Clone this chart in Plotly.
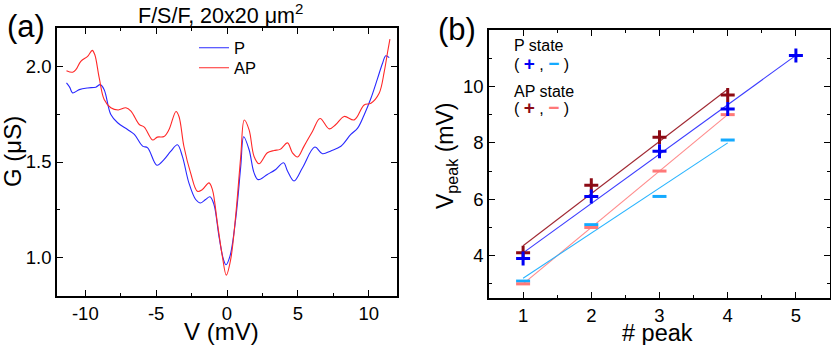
import numpy as np
import plotly.graph_objects as go

FONT = "Liberation Sans, Arial, sans-serif"

# ---------------- Panel (a) data ----------------
V_P = [-11.33, -11.1, -10.9, -10.43, -9.84, -9.26, -8.95, -8.67, -8.2, -7.72, -7.02, -6.54,
       -5.96, -5.6, -4.95, -4.45, -3.98, -3.5, -3.15, -2.69, -2.21, -1.86, -1.51, -1.2, -0.92,
       -0.57, -0.25, -0.07, 0.21, 0.61, 0.97, 1.18, 1.56, 1.91, 2.2, 2.85, 3.44, 3.99, 4.27,
       4.73, 5.33, 6.2, 6.74, 7.33, 8.04, 8.74, 9.22, 9.68, 10.16, 10.63, 10.98, 11.21, 11.45]
G_P = [1.913, 1.89, 1.861, 1.878, 1.887, 1.891, 1.904, 1.878, 1.748, 1.705, 1.670, 1.644,
       1.583, 1.574, 1.483, 1.512, 1.555, 1.590, 1.529, 1.391, 1.304, 1.286, 1.304, 1.318, 1.278,
       1.113, 0.991, 0.963, 1.008, 1.20, 1.477, 1.632, 1.564, 1.443, 1.408, 1.435, 1.461, 1.496, 1.453,
       1.401, 1.47, 1.578, 1.543, 1.558, 1.582, 1.644, 1.677, 1.746, 1.833, 1.937, 2.016, 2.055, 2.045]

V_AP = [-11.33, -10.9, -10.67, -10.32, -9.84, -9.51, -9.33, -9.02, -8.67, -8.2, -7.68, -7.14,
        -6.78, -6.19, -5.84, -5.25, -4.92, -4.45, -4.1, -3.6, -3.39, -3.04, -2.57, -2.09, -1.74,
        -1.27, -1.03, -0.68, -0.33, -0.05, 0.26, 0.61, 0.97, 1.22, 1.56, 1.91, 2.26, 2.85, 3.32,
        3.75, 4.27, 4.62, 4.98, 5.44, 6.04, 6.57, 7.21, 7.68, 8.27, 8.98, 9.68, 10.16, 10.74,
        11.1, 11.34, 11.5]
G_AP = [1.977, 1.969, 1.982, 2.026, 2.052, 2.083, 2.06, 1.939, 1.826, 1.783, 1.772, 1.783,
        1.766, 1.696, 1.682, 1.615, 1.630, 1.633, 1.668, 1.764, 1.738, 1.581, 1.443, 1.347, 1.356,
        1.391, 1.356, 1.182, 1.008, 0.909, 0.991, 1.217, 1.529, 1.719, 1.668, 1.529, 1.491, 1.548, 1.56,
        1.566, 1.600, 1.548, 1.526, 1.583, 1.661, 1.727, 1.673, 1.696, 1.738, 1.72, 1.798, 1.807, 1.859,
        1.972, 2.076, 2.142]

# ---------------- Panel (b) data ----------------
peak_P = [1, 2, 3, 4, 5]
Vp_P_plus = [3.9, 6.1, 7.7, 9.2, 11.1]
peak_4 = [1, 2, 3, 4]
Vp_P_minus = [3.1, 5.1, 6.1, 8.1]
Vp_AP_plus = [4.1, 6.5, 8.2, 9.7]
Vp_AP_minus = [3.0, 5.0, 7.0, 9.0]

C_BLUE = "rgb(40,40,255)"
C_RED = "rgb(255,40,40)"
C_PP = "rgb(0,0,245)"
C_PM = "rgb(20,170,255)"
C_APP = "rgb(140,10,20)"
C_APM = "rgb(255,120,120)"

W, H = 831, 345


def PX(x):
    return x / W


def PY(y):
    return 1 - y / H


fig = go.Figure()

fig.add_trace(go.Scatter(x=V_P, y=G_P, mode="lines", name="P", legend="legend",
                         line=dict(color=C_BLUE, width=1.1, shape="spline", smoothing=1.0),
                         xaxis="x", yaxis="y"))
fig.add_trace(go.Scatter(x=V_AP, y=G_AP, mode="lines", name="AP", legend="legend2",
                         line=dict(color=C_RED, width=1.1, shape="spline", smoothing=1.0),
                         xaxis="x", yaxis="y"))


def fit_line(xs, ys):
    k, b = np.polyfit(xs, ys, 1)
    xx = np.array([min(xs), max(xs)], dtype=float)
    return xx, k * xx + b


for xs, ys, col in [(peak_4, Vp_AP_plus, "rgb(160,40,50)"),
                    (peak_P, Vp_P_plus, "rgb(60,60,255)"),
                    (peak_4, Vp_AP_minus, "rgb(255,140,140)"),
                    (peak_4, Vp_P_minus, "rgb(40,180,255)")]:
    fx, fy = fit_line(xs, ys)
    fig.add_trace(go.Scatter(x=fx, y=fy, mode="lines", showlegend=False,
                             line=dict(color=col, width=1.1), xaxis="x2", yaxis="y2"))

for xs, ys, col, sym in [(peak_4, Vp_P_minus, C_PM, "line-ew"),
                         (peak_4, Vp_AP_minus, C_APM, "line-ew"),
                         (peak_4, Vp_AP_plus, C_APP, "cross-thin"),
                         (peak_P, Vp_P_plus, C_PP, "cross-thin")]:
    fig.add_trace(go.Scatter(x=xs, y=ys, mode="markers", showlegend=False,
                             marker=dict(symbol=sym, size=10, line=dict(color=col, width=3)),
                             xaxis="x2", yaxis="y2"))

axis_common = dict(showline=True, linecolor="black", linewidth=1.5, mirror="ticks",
                   ticks="inside", ticklen=6, tickwidth=1.2, tickcolor="black",
                   showgrid=False, zeroline=False,
                   tickfont=dict(family=FONT, size=18.5, color="black"))

leg_common = dict(xanchor="left", yanchor="middle", bgcolor="rgba(0,0,0,0)",
                  font=dict(family=FONT, size=16.5, color="black"), itemwidth=30)

fig.update_layout(
    width=W, height=H,
    margin=dict(l=0, r=0, t=0, b=0),
    paper_bgcolor="white", plot_bgcolor="white",
    font=dict(family=FONT, color="black"),
    xaxis=dict(domain=[PX(57), PX(397)], range=[-12, 12], tickvals=[-10, -5, 0, 5, 10],
               ticktext=["-10", "-5", "0", "5", "10"],
               minor=dict(dtick=2.5, tick0=0, ticks="inside", ticklen=3.5, tickcolor="black"),
               anchor="y", **axis_common),
    yaxis=dict(domain=[PY(296), PY(28)], range=[0.8, 2.2], tickvals=[1.0, 1.5, 2.0],
               tickformat=".1f",
               minor=dict(dtick=0.25, tick0=0, ticks="inside", ticklen=3.5, tickcolor="black"),
               anchor="x", **axis_common),
    xaxis2=dict(domain=[PX(489), PX(830)], range=[0.5, 5.5], tickvals=[1, 2, 3, 4, 5],
                minor=dict(dtick=0.5, tick0=0, ticks="inside", ticklen=3.5, tickcolor="black"),
                anchor="y2", **axis_common),
    yaxis2=dict(domain=[PY(298), PY(30)], range=[2.5, 12], tickvals=[4, 6, 8, 10],
                minor=dict(dtick=1, tick0=0, ticks="inside", ticklen=3.5, tickcolor="black"),
                anchor="x2", **axis_common),
    legend=dict(x=PX(194), y=PY(48), **leg_common),
    legend2=dict(x=PX(194), y=PY(68), **leg_common),
    showlegend=True,
)

ann = [
    dict(text="F/S/F, 20x20 μm<sup>2</sup>", x=220, y=14, size=21.5),
    dict(text="(a)", x=26, y=27, size=31),
    dict(text="(b)", x=457, y=30, size=31),
    dict(text="V (mV)", x=221, y=331, size=24),
    dict(text="# peak", x=657, y=333, size=23.5),
    dict(text="G (μS)", x=12, y=152, size=24, angle=-90),
    dict(text="V<sub>peak</sub> (mV)", x=446, y=156, size=23, angle=-90),
]
for a in ann:
    fig.add_annotation(text=a["text"], x=PX(a["x"]), y=PY(a["y"]), xref="paper", yref="paper",
                       xanchor="center", yanchor="middle", showarrow=False,
                       textangle=a.get("angle", 0),
                       font=dict(family=FONT, size=a["size"], color="black"))

SP = "\u00a0"


def sym_row(c1, c2):
    return ("(" + SP + "<span style='color:%s;font-size:19px'><b>+</b></span>" % c1 + SP + ","
            + SP + "<span style='color:%s;font-size:19px'><b>−</b></span>" % c2 + SP + ")")


leg_b = [
    ("P state", 46),
    (sym_row(C_PP, C_PM), 63),
    ("AP state", 91),
    (sym_row(C_APP, C_APM), 107),
]
for t, yy in leg_b:
    fig.add_annotation(text=t, x=PX(512), y=PY(yy), xref="paper", yref="paper",
                       xanchor="left", yanchor="middle", showarrow=False,
                       font=dict(family=FONT, size=16, color="black"))

fig.write_html("out.html", config={"displayModeBar": False},
               post_script="document.body.style.margin='0';document.body.style.overflow='hidden';")
